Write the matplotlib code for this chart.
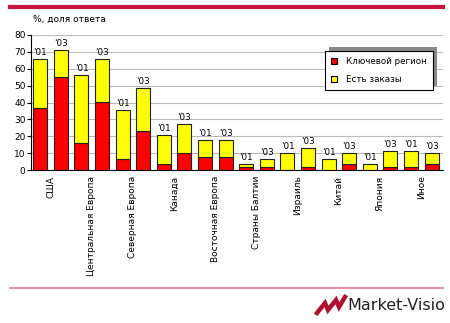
import matplotlib.pyplot as plt
import matplotlib.patches as mpatches
from matplotlib.lines import Line2D
import numpy as np

regions = ['США', 'Центральная Европа', 'Северная Европа', 'Канада',
           'Восточная Европа', 'Страны Балтии', 'Израиль', 'Китай',
           'Япония', 'Иное']
years = ["'01", "'03"]

# totals (top of bar) and red part, per region: ['01, '03]
total = [[66, 71], [56.5, 66], [35.5, 48.5], [21, 27.5], [18, 18],
         [3.5, 6.3], [9.8, 12.8], [6.7, 9.8], [3.5, 11.4], [11.4, 9.8]]
key_region = [[37, 55], [16, 40.5], [6.5, 23], [3.5, 10], [8, 8],
              [2, 2], [0, 2], [0, 3.3], [0, 2], [2, 3.3]]

RED = '#FF0000'
YELLOW = '#FFFF00'
W, H = 450, 323

fig = plt.figure(figsize=(4.5, 3.23), dpi=100)
ax = fig.add_axes([31 / W, 1 - 170 / H, 412 / W, 135 / H])

k = np.array(key_region, dtype=float).ravel()
t = np.array(total, dtype=float).ravel()
x = np.arange(len(t))
yl = years * len(regions)

ax.bar(x, k, width=0.68, color=RED, edgecolor='#222222', linewidth=0.8, zorder=3)
ax.bar(x, t - k, bottom=k, width=0.68, color=YELLOW, edgecolor='#222222',
       linewidth=0.8, zorder=3)
for xi, ti, lab in zip(x, t, yl):
    ax.text(xi, ti + 1.2, lab, ha='center', va='bottom', fontsize=6.3,
            color='black')

ax.set_xlim(-0.45, len(t) - 0.45)
ax.set_ylim(0, 80)
ax.set_yticks(range(0, 81, 10))
ax.tick_params(axis='y', labelsize=6.5, length=3, width=0.8, pad=1)
ax.set_xticks(np.arange(len(regions)) * 2 + 0.5)
ax.set_xticklabels(regions, rotation=90, fontsize=6.5)
ax.tick_params(axis='x', length=0, pad=4)
ax.yaxis.grid(True, color='#BBBBBB', linewidth=0.8, zorder=0)
ax.set_axisbelow(True)
for s in ['top', 'right']:
    ax.spines[s].set_visible(False)
for s in ['left', 'bottom']:
    ax.spines[s].set_color('black')
    ax.spines[s].set_linewidth(0.8)

fig.text(33 / W, 1 - 19 / H, '%, доля ответа', fontsize=6.5,
         ha='left', va='center')

handles = [mpatches.Patch(facecolor=RED, edgecolor='black', linewidth=0.8),
           mpatches.Patch(facecolor=YELLOW, edgecolor='black', linewidth=0.8)]
leg = ax.legend(handles, ['Ключевой регион', 'Есть заказы'],
                loc='upper left', bbox_to_anchor=(0.714, 0.881),
                borderaxespad=0, fontsize=6.3, fancybox=False, framealpha=1,
                edgecolor='black', handlelength=0.7, handleheight=0.7,
                borderpad=0.7, labelspacing=1.0, handletextpad=1.0)
leg.get_frame().set_linewidth(0.8)
leg.set_zorder(6)

# legend shadow (offset up-right), drawn in the axes just under the legend
fig.canvas.draw()
bb = leg.get_frame().get_window_extent()
ax.add_patch(mpatches.Rectangle((bb.x0 + 4, bb.y0 + 4), bb.width, bb.height,
                                transform=None, clip_on=False,
                                facecolor='#888888', edgecolor='none',
                                zorder=5))

# top and bottom rules
fig.add_artist(Line2D([10 / W, 443 / W], [1 - 7 / H, 1 - 7 / H],
                      color='#C8143C', linewidth=3))
fig.add_artist(Line2D([10 / W, 443 / W], [1 - 288 / H, 1 - 288 / H],
                      color='#E07A8C', linewidth=1.2))

# logo
zig = [(317, 313), (325, 303), (328, 310), (336, 300), (339, 307), (345, 297)]
fig.add_artist(Line2D([p[0] / W for p in zig], [1 - p[1] / H for p in zig],
                      color='#B01030', linewidth=3.2, solid_joinstyle='miter'))
fig.text(347 / W, 1 - 306 / H, 'Market-Visio', fontsize=11.5,
         family=['Liberation Sans Narrow', 'DejaVu Sans'], ha='left',
         va='center', color='#222222')

fig.savefig('out.png', dpi=100)
